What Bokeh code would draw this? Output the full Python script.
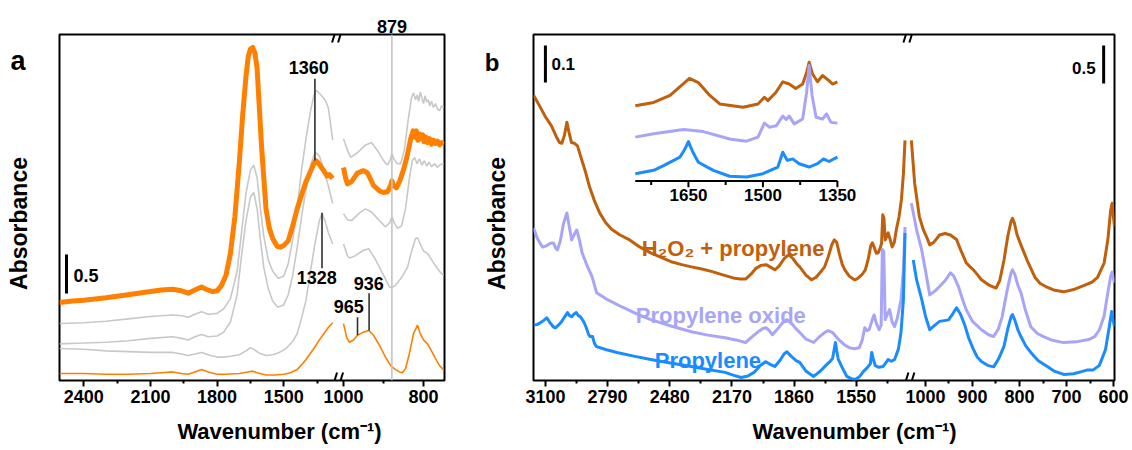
from bokeh.plotting import figure
from bokeh.models import Range1d, Label, Span, FixedTicker, CustomJSTickFormatter, LinearAxis
from bokeh.layouts import row
from bokeh.embed import file_html
from bokeh.resources import INLINE

FONT = "Liberation Sans"

# ---------------- Panel a data (left segment 2500-1280, right segment 1000-750) ----------------
a_thick_wl = [2509, 2450, 2400, 2300, 2200, 2100, 2050, 2000, 1960, 1930, 1900, 1870, 1850, 1820, 1800, 1780, 1760, 1740, 1720, 1700,
              1685, 1670, 1660, 1650, 1640, 1630, 1620, 1610, 1600, 1590, 1580, 1565, 1550, 1530, 1515, 1500, 1480, 1460, 1440, 1420,
              1400, 1380, 1365, 1356, 1340, 1320, 1305, 1295, 1280]
a_thick_vl = [1.00, 1.02, 1.03, 1.06, 1.10, 1.14, 1.16, 1.17, 1.15, 1.12, 1.16, 1.20, 1.17, 1.14, 1.15, 1.22, 1.35, 1.63, 2.10, 2.80,
              3.40, 3.90, 4.15, 4.25, 4.27, 4.20, 4.00, 3.50, 3.00, 2.60, 2.20, 1.95, 1.82, 1.72, 1.71, 1.73, 1.79, 1.98, 2.20, 2.38,
              2.55, 2.68, 2.78, 2.82, 2.77, 2.69, 2.62, 2.64, 2.59]
a_thick_wr = [1000, 995, 990, 980, 965, 950, 940, 925, 910, 900, 890, 882, 879, 875, 868, 860, 850, 840, 832, 826,
              822, 818, 814, 810, 806, 802, 798, 794, 790, 785, 780, 775, 770, 765, 760, 755, 750]
a_thick_vr = [2.73, 2.60, 2.52, 2.55, 2.66, 2.69, 2.66, 2.50, 2.43, 2.41, 2.42, 2.50, 2.56, 2.50, 2.47, 2.55, 2.70, 2.90, 3.10, 3.20,
              3.12, 3.20, 3.08, 3.16, 3.10, 3.15, 3.06, 3.12, 3.05, 3.10, 3.03, 3.08, 3.04, 3.07, 3.02, 3.05, 3.03]

a_grayA_wl = [2509, 2400, 2300, 2200, 2100, 2000, 1960, 1930, 1900, 1870, 1840, 1800, 1770, 1740, 1710, 1690, 1670, 1650, 1635, 1620,
              1605, 1590, 1570, 1550, 1525, 1500, 1480, 1460, 1440, 1420, 1400, 1380, 1365, 1355, 1345, 1330, 1315, 1300, 1290, 1280]
a_grayA_vl = [0.73, 0.74, 0.76, 0.79, 0.82, 0.84, 0.83, 0.81, 0.85, 0.88, 0.85, 0.86, 0.92, 1.05, 1.40, 1.90, 2.40, 2.70, 2.76, 2.60,
              2.20, 1.85, 1.55, 1.40, 1.31, 1.34, 1.50, 1.80, 2.20, 2.70, 3.10, 3.45, 3.65, 3.72, 3.70, 3.65, 3.60, 3.50, 3.30, 3.08]
a_grayA_wr = [1000, 990, 982, 965, 945, 930, 915, 900, 890, 882, 879, 875, 866, 857, 848, 838, 830, 825, 820, 816,
              812, 808, 804, 800, 796, 792, 788, 784, 780, 775, 770, 765, 760, 755, 750]
a_grayA_vr = [3.10, 2.95, 2.86, 2.92, 3.02, 3.05, 2.95, 2.82, 2.76, 2.84, 2.91, 2.85, 2.78, 2.78, 2.95, 3.35, 3.62, 3.69, 3.60, 3.66,
              3.58, 3.70, 3.62, 3.55, 3.65, 3.57, 3.60, 3.52, 3.58, 3.50, 3.55, 3.48, 3.46, 3.52, 3.50]

a_grayB_wl = [2509, 2400, 2300, 2200, 2100, 2000, 1960, 1930, 1900, 1870, 1840, 1800, 1770, 1740, 1710, 1690, 1670, 1650, 1635, 1620,
              1605, 1590, 1570, 1550, 1527, 1500, 1480, 1460, 1440, 1420, 1400, 1380, 1365, 1355, 1340, 1320, 1300, 1280]
a_grayB_vl = [0.47, 0.48, 0.49, 0.51, 0.54, 0.56, 0.54, 0.52, 0.56, 0.59, 0.56, 0.57, 0.62, 0.75, 1.10, 1.60, 2.05, 2.35, 2.41, 2.20,
              1.80, 1.45, 1.18, 1.02, 0.94, 0.97, 1.10, 1.35, 1.70, 2.10, 2.45, 2.75, 2.88, 2.92, 2.88, 2.70, 2.50, 2.27]
a_grayB_wr = [1000, 990, 980, 960, 945, 930, 910, 895, 885, 879, 873, 865, 855, 845, 835, 828, 822, 816, 810, 804,
              798, 792, 786, 780, 772, 765, 758, 750]
a_grayB_vr = [2.14, 2.06, 2.05, 2.15, 2.20, 2.16, 2.05, 1.97, 2.02, 2.10, 2.02, 1.95, 1.98, 2.20, 2.60, 2.82, 2.86, 2.78, 2.84, 2.76,
              2.82, 2.75, 2.80, 2.74, 2.78, 2.73, 2.77, 2.78]

a_grayC_wl = [2509, 2400, 2300, 2200, 2100, 2000, 1960, 1930, 1900, 1870, 1840, 1800, 1770, 1740, 1700, 1670, 1650, 1635, 1610, 1580,
              1550, 1520, 1490, 1460, 1440, 1420, 1400, 1380, 1360, 1340, 1328, 1315, 1300, 1280]
a_grayC_vl = [0.41, 0.40, 0.38, 0.37, 0.36, 0.36, 0.34, 0.32, 0.34, 0.36, 0.33, 0.30, 0.30, 0.31, 0.33, 0.38, 0.42, 0.40, 0.35, 0.32,
              0.33, 0.36, 0.41, 0.50, 0.60, 0.80, 1.03, 1.40, 1.75, 2.05, 2.14, 2.05, 1.90, 1.75]
a_grayC_wr = [1000, 990, 985, 970, 950, 937, 920, 900, 885, 879, 870, 855, 840, 830, 820, 815, 808, 800, 790, 780, 770, 760, 750]
a_grayC_vr = [1.75, 1.60, 1.57, 1.60, 1.67, 1.69, 1.55, 1.35, 1.20, 1.19, 1.22, 1.32, 1.45, 1.65, 1.82, 1.83, 1.75, 1.66, 1.63, 1.55,
              1.47, 1.40, 1.35]

a_thin_wl = [2509, 2400, 2300, 2200, 2100, 2050, 2000, 1960, 1930, 1900, 1870, 1840, 1800, 1760, 1700, 1660, 1640, 1620, 1580, 1540,
             1500, 1470, 1440, 1420, 1400, 1380, 1360, 1340, 1320, 1300, 1280]
a_thin_vl = [0.09, 0.09, 0.08, 0.08, 0.09, 0.10, 0.11, 0.09, 0.08, 0.11, 0.14, 0.11, 0.08, 0.08, 0.09, 0.11, 0.12, 0.10, 0.07, 0.07,
             0.08, 0.10, 0.14, 0.20, 0.27, 0.35, 0.43, 0.52, 0.60, 0.68, 0.74]
a_thin_wr = [1000, 992, 985, 975, 965, 950, 936, 925, 910, 895, 882, 870, 860, 853, 845, 835, 825, 815, 808, 800,
             790, 780, 770, 760, 750]
a_thin_vr = [0.73, 0.55, 0.49, 0.52, 0.58, 0.62, 0.64, 0.58, 0.45, 0.30, 0.19, 0.14, 0.11, 0.10, 0.15, 0.35, 0.60, 0.71, 0.60, 0.52,
             0.47, 0.38, 0.28, 0.19, 0.14]

a_ticks_left = [2400, 2100, 1800, 1500]
a_minor_left = [2250, 1950, 1650, 1350]
a_ticks_right = [1000, 800]
a_minor_right = [900]

# ---------------- Panel b data ----------------
b_brown_wl = [3159, 3130, 3100, 3070, 3045, 3030, 3018, 3005, 2993, 2982, 2970, 2955, 2940, 2920, 2900, 2880, 2857, 2830, 2800, 2770,
              2730, 2680, 2630, 2575, 2520, 2473, 2420, 2372, 2320, 2268, 2220, 2164, 2130, 2102, 2075, 2050, 2025, 2000, 1980, 1956,
              1935, 1910, 1887, 1865, 1845, 1832, 1800, 1773, 1750, 1725, 1708, 1690, 1672, 1660, 1648, 1635, 1620, 1607, 1585, 1565,
              1555, 1540, 1520, 1505, 1490, 1478, 1470, 1460, 1450, 1441, 1430, 1424, 1418, 1412, 1406, 1398, 1391, 1380, 1371, 1360,
              1350, 1337, 1325, 1315, 1307]
b_brown_vl = [0.773, 0.745, 0.715, 0.690, 0.660, 0.645, 0.643, 0.665, 0.700, 0.672, 0.645, 0.643, 0.636, 0.600, 0.565, 0.525, 0.489,
              0.455, 0.428, 0.410, 0.395, 0.381, 0.362, 0.346, 0.333, 0.322, 0.314, 0.308, 0.302, 0.295, 0.287, 0.278, 0.275, 0.275,
              0.288, 0.304, 0.312, 0.314, 0.308, 0.300, 0.310, 0.330, 0.341, 0.330, 0.315, 0.308, 0.285, 0.273, 0.280, 0.296, 0.308,
              0.335, 0.368, 0.381, 0.375, 0.345, 0.315, 0.300, 0.283, 0.275, 0.273, 0.278, 0.288, 0.300, 0.330, 0.365, 0.373, 0.360,
              0.345, 0.346, 0.360, 0.372, 0.449, 0.440, 0.381, 0.392, 0.400, 0.380, 0.362, 0.375, 0.410, 0.443, 0.490, 0.560, 0.651]
b_brown_wr = [1030, 1023, 1013, 1004, 998, 991, 983, 970, 958, 947, 934, 925, 913, 905, 898, 890, 881, 865, 850, 842,
              833, 825, 818, 815, 811, 805, 797, 784, 767, 756, 744, 725, 706, 685, 661, 645, 634, 620, 612, 606, 603, 598]
b_brown_vr = [3.17, 2.60, 2.16, 1.98, 1.90, 1.79, 1.82, 1.92, 1.94, 1.92, 1.86, 1.72, 1.55, 1.50, 1.46, 1.40, 1.33, 1.26, 1.22, 1.32,
              1.59, 1.90, 2.10, 2.14, 2.08, 1.92, 1.79, 1.59, 1.36, 1.28, 1.24, 1.19, 1.17, 1.20, 1.26, 1.30, 1.36, 1.55, 1.86, 2.25,
              2.34, 2.03]

b_lav_wl = [3159, 3140, 3115, 3095, 3075, 3060, 3048, 3040, 3025, 3010, 2993, 2982, 2969, 2957, 2944, 2930, 2917, 2895, 2867, 2845,
            2800, 2721, 2650, 2575, 2470, 2372, 2290, 2204, 2150, 2102, 2070, 2040, 2015, 2000, 1985, 1968, 1945, 1920, 1896, 1870,
            1850, 1832, 1800, 1763, 1735, 1708, 1690, 1668, 1640, 1610, 1585, 1560, 1535, 1520, 1508, 1497, 1486, 1470, 1461, 1450,
            1436, 1426, 1420, 1413, 1406, 1395, 1384, 1372, 1359, 1345, 1327, 1315, 1307]
b_lav_vl = [0.413, 0.385, 0.362, 0.365, 0.372, 0.373, 0.358, 0.354, 0.380, 0.425, 0.454, 0.420, 0.381, 0.395, 0.408, 0.380, 0.346,
            0.315, 0.281, 0.238, 0.222, 0.200, 0.182, 0.165, 0.147, 0.132, 0.123, 0.116, 0.110, 0.103, 0.118, 0.132, 0.141, 0.143,
            0.136, 0.124, 0.138, 0.155, 0.165, 0.153, 0.140, 0.130, 0.112, 0.103, 0.118, 0.130, 0.135, 0.130, 0.112, 0.097, 0.089,
            0.086, 0.089, 0.110, 0.143, 0.135, 0.138, 0.165, 0.178, 0.155, 0.138, 0.150, 0.355, 0.350, 0.165, 0.180, 0.192, 0.160,
            0.146, 0.170, 0.219, 0.300, 0.416]
b_lav_wr = [1030, 1019, 1008, 1000, 991, 980, 970, 958, 947, 940, 930, 920, 913, 900, 881, 865, 855, 845, 837, 826,
            818, 815, 810, 803, 797, 787, 776, 762, 749, 730, 706, 680, 653, 640, 630, 620, 612, 606, 603, 598]
b_lav_vr = [2.34, 1.99, 1.72, 1.45, 1.13, 1.18, 1.24, 1.32, 1.42, 1.38, 1.24, 1.05, 0.93, 0.78, 0.67, 0.60, 0.58, 0.68, 0.84, 1.20,
            1.42, 1.46, 1.40, 1.25, 1.16, 0.92, 0.71, 0.62, 0.58, 0.53, 0.50, 0.51, 0.54, 0.58, 0.67, 0.85, 1.16, 1.38, 1.43, 1.29]

b_blue_wl = [3159, 3140, 3124, 3108, 3093, 3075, 3060, 3050, 3035, 3020, 3005, 2990, 2980, 2969, 2957, 2946, 2936, 2926, 2910, 2896,
             2885, 2877, 2865, 2855, 2845, 2800, 2743, 2660, 2575, 2470, 2372, 2290, 2204, 2160, 2124, 2090, 2060, 2030, 2003, 1980,
             1956, 1930, 1910, 1896, 1875, 1850, 1832, 1800, 1763, 1730, 1698, 1680, 1668, 1660, 1654, 1648, 1640, 1620, 1597, 1575,
             1555, 1535, 1515, 1495, 1480, 1473, 1466, 1455, 1440, 1416, 1400, 1391, 1375, 1359, 1340, 1327, 1315, 1307]
b_blue_vl = [0.151, 0.152, 0.157, 0.163, 0.170, 0.155, 0.145, 0.143, 0.150, 0.159, 0.172, 0.184, 0.176, 0.173, 0.180, 0.184, 0.176,
             0.173, 0.160, 0.143, 0.125, 0.119, 0.119, 0.100, 0.092, 0.084, 0.076, 0.066, 0.057, 0.047, 0.038, 0.030, 0.022, 0.014,
             0.008, 0.012, 0.022, 0.040, 0.051, 0.044, 0.038, 0.055, 0.072, 0.078, 0.066, 0.054, 0.049, 0.025, 0.011, 0.025, 0.043,
             0.052, 0.060, 0.085, 0.103, 0.082, 0.058, 0.035, 0.011, 0.005, 0.003, 0.010, 0.024, 0.035, 0.045, 0.076, 0.060, 0.040,
             0.036, 0.038, 0.050, 0.057, 0.052, 0.057, 0.085, 0.130, 0.220, 0.400]
b_blue_wr = [1026, 1019, 1008, 1000, 991, 980, 970, 960, 951, 942, 934, 926, 917, 908, 898, 890, 881, 868, 855, 845,
             833, 825, 818, 815, 810, 803, 797, 787, 776, 760, 740, 725, 706, 685, 666, 655, 643, 630, 617, 608, 604, 598]
b_blue_vr = [1.59, 1.33, 1.07, 0.85, 0.67, 0.73, 0.78, 0.79, 0.80, 0.88, 0.96, 0.88, 0.74, 0.56, 0.41, 0.31, 0.25, 0.20, 0.18, 0.28,
             0.45, 0.68, 0.84, 0.87, 0.80, 0.66, 0.58, 0.46, 0.37, 0.26, 0.18, 0.12, 0.08, 0.09, 0.12, 0.14, 0.14, 0.20, 0.41, 0.75,
             0.91, 0.71]

b_ticks_left = [3100, 2790, 2480, 2170, 1860, 1550]
b_minor_left = [2945, 2635, 2325, 2015, 1705, 1395]
b_ticks_right = [1000, 900, 800, 700, 600]
b_minor_right = [950, 850, 750, 650]

# inset (1750-1350 cm-1)
in_brown_w = [1757, 1720, 1687, 1664, 1648, 1630, 1607, 1587, 1540, 1510, 1497, 1490, 1474, 1460, 1447, 1434, 1420, 1412, 1407, 1400,
              1390, 1380, 1367, 1360, 1350]
in_brown_v = [0.196, 0.205, 0.224, 0.251, 0.270, 0.259, 0.224, 0.201, 0.192, 0.201, 0.219, 0.210, 0.232, 0.261, 0.255, 0.243, 0.255,
              0.286, 0.314, 0.282, 0.261, 0.278, 0.264, 0.255, 0.261]
in_lav_w = [1757, 1720, 1660, 1620, 1567, 1533, 1510, 1497, 1487, 1473, 1460, 1453, 1447, 1437, 1420, 1412, 1407, 1401, 1393, 1380,
            1372, 1363, 1350]
in_lav_v = [0.111, 0.120, 0.132, 0.126, 0.106, 0.100, 0.111, 0.149, 0.138, 0.142, 0.168, 0.159, 0.168, 0.147, 0.160, 0.232, 0.305,
            0.224, 0.165, 0.160, 0.174, 0.151, 0.149]
in_blue_w = [1757, 1720, 1700, 1667, 1657, 1650, 1641, 1630, 1600, 1567, 1533, 1500, 1470, 1460, 1451, 1440, 1427, 1407, 1390, 1378,
             1367, 1350]
in_blue_v = [0.012, 0.021, 0.034, 0.057, 0.079, 0.099, 0.070, 0.043, 0.021, 0.005, 0.003, 0.012, 0.030, 0.070, 0.048, 0.052, 0.039,
             0.030, 0.039, 0.052, 0.045, 0.057]
in_ticks = [1650, 1500, 1350]
in_minor = [1725, 1575, 1425]

ORANGE = "#ff8000"
GRAY = "#c8c8c8"
BROWN = "#c0600c"
LAV = "#a8a4f8"
BLUE = "#1a8cff"
NB = "\u00a0"
XLABEL = "Wavenumber (cm\u207b\u00b9)"


def lab(p, x, y, text, size, color="black", align="left", baseline="middle", xr="default", yr="default"):
    p.add_layout(Label(x=x, y=y, text=text, text_font=FONT, text_font_style="bold", text_font_size=f"{size}px",
                       text_color=color, text_align=align, text_baseline=baseline,
                       x_range_name=xr, y_range_name=yr))


def to_main(w, L, R):
    return L.start + (w - R.start) * (L.end - L.start) / (R.end - R.start)


def const_fmt(txt):
    return CustomJSTickFormatter(args=dict(t=txt), code="return t;")


def bold_axis(ax, size):
    ax.major_label_text_font = FONT
    ax.major_label_text_font_style = "bold"
    ax.major_label_text_font_size = f"{size}px"
    ax.major_label_text_color = "black"
    ax.axis_label_text_font = FONT
    ax.axis_label_text_font_style = "bold"
    ax.axis_label_text_color = "black"


def no_ticks(ax):
    ax.axis_line_color = None
    ax.major_tick_line_color = None
    ax.minor_tick_line_color = None
    ax.major_tick_out = 0
    ax.major_tick_in = 0
    ax.minor_tick_out = 0
    ax.minor_tick_in = 0


def break_marks(p, w_c, kx, ky, y_edges):
    # two short slanted strokes centred on the frame edge (px per unit: kx, ky)
    x0, y0, x1, y1 = [], [], [], []
    for ye in y_edges:
        for off in (-3.0, 3.0):
            x0.append(w_c - (off - 2.5) / kx)
            y0.append(ye - 8.0 / ky)
            x1.append(w_c - (off + 2.5) / kx)
            y1.append(ye + 8.0 / ky)
    p.segment(x0=x0, y0=y0, x1=x1, y1=y1, line_color="black", line_width=2)


def style_panel(p, L, R, brk, ticks_l, minor_l, ticks_r, minor_r, xlabel, ylabel, letter, letter_y, letter_size,
                ylab_standoff, mark879=None):
    ticks = ticks_l + [to_main(t, L, R) for t in ticks_r]
    minor = minor_l + [to_main(t, L, R) for t in minor_r]
    ax = p.xaxis[0]
    ax.ticker = FixedTicker(ticks=ticks, minor_ticks=minor)
    ax.formatter = CustomJSTickFormatter(args=dict(brk=brk, l0=L.start, l1=L.end, r0=R.start, r1=R.end), code="""
        if (tick > brk) { return Math.round(tick).toString(); }
        const v = r0 + (tick - l0) * (r1 - r0) / (l1 - l0);
        return Math.round(v).toString();
    """)
    ax.axis_line_color = None
    ax.major_tick_out = 6
    ax.major_tick_in = 0
    ax.minor_tick_out = 3
    ax.minor_tick_in = 0
    ax.major_tick_line_width = 2
    ax.minor_tick_line_width = 2
    ax.major_tick_line_color = "black"
    ax.minor_tick_line_color = "black"
    bold_axis(ax, 18)
    ax.major_label_standoff = 3
    ax.axis_label = xlabel
    ax.axis_label_text_font_size = "22px"
    ax.axis_label_standoff = 13

    ay = p.yaxis[0]
    ay.ticker = FixedTicker(ticks=[letter_y], minor_ticks=[])
    ay.formatter = const_fmt(letter)
    no_ticks(ay)
    bold_axis(ay, letter_size)
    ay.major_label_standoff = 34
    ay.axis_label = ylabel
    ay.axis_label_text_font_size = "23px"
    ay.axis_label_standoff = ylab_standoff

    if mark879 is not None:
        top = LinearAxis(ticker=FixedTicker(ticks=[to_main(mark879, L, R)], minor_ticks=[]),
                         formatter=const_fmt(str(mark879)))
        no_ticks(top)
        bold_axis(top, 18)
        top.major_label_standoff = 2
        p.add_layout(top, "above")

    p.grid.visible = False
    p.outline_line_color = "black"
    p.outline_line_width = 2
    p.outline_line_alpha = 1.0


# ================= Panel a =================
aL = Range1d(2509, 777)
aR = Range1d(1710, 747.5)
aY = Range1d(0, 4.436)
pa = figure(width=480, height=450, x_range=aL, y_range=aY, output_backend="svg",
            toolbar_location=None, min_border_left=59, min_border_right=36, min_border_top=34, min_border_bottom=70)
pa.extra_x_ranges = {"right": aR}
style_panel(pa, aL, aR, 1258, a_ticks_left, a_minor_left, a_ticks_right, a_minor_right,
            NB * 9 + XLABEL, "Absorbance" + NB * 5, "a", 4.09, 27, -25, mark879=879)

for wl, vl, wr, vr in [(a_grayA_wl, a_grayA_vl, a_grayA_wr, a_grayA_vr),
                       (a_grayB_wl, a_grayB_vl, a_grayB_wr, a_grayB_vr),
                       (a_grayC_wl, a_grayC_vl, a_grayC_wr, a_grayC_vr)]:
    pa.line(wl, vl, line_color=GRAY, line_width=1.6)
    pa.line(wr, vr, line_color=GRAY, line_width=1.6, x_range_name="right")
pa.line(a_thin_wl, a_thin_vl, line_color=ORANGE, line_width=1.6)
pa.line(a_thin_wr, a_thin_vr, line_color=ORANGE, line_width=1.6, x_range_name="right")
pa.line(a_thick_wl, a_thick_vl, line_color=ORANGE, line_width=5, line_join="round")
pa.line(a_thick_wr, a_thick_vr, line_color=ORANGE, line_width=5, line_join="round", x_range_name="right")

pa.add_layout(Span(location=879, dimension="height", line_color="#c4c4c4", line_width=1.6, x_range_name="right"))

# peak markers
pa.segment(x0=[1360, 1328], y0=[3.87, 2.15], x1=[1360, 1328], y1=[2.82, 1.44], line_color="#303030", line_width=1.6)
pa.segment(x0=[965, 936], y0=[0.81, 1.12], x1=[965, 936], y1=[0.58, 0.64], line_color="#303030", line_width=1.6,
           x_range_name="right")
lab(pa, 1388, 4.01, "1360", 18, align="center")
lab(pa, 1352, 1.32, "1328", 18, align="center")
lab(pa, 987, 0.95, "965", 18, align="center", xr="right")
lab(pa, 937, 1.24, "936", 18, align="center", xr="right")

# scale bar
pa.segment(x0=[2477.5], y0=[1.115], x1=[2477.5], y1=[1.615], line_color="black", line_width=3)
lab(pa, 2446, 1.346, "0.5", 18)

break_marks(pa, 1258, 0.2222, 78.0, [aY.start, aY.end])

# ================= Panel b =================
bL = Range1d(3159.4, 262.5)
bR = Range1d(1833.9, 597.9)
bY = Range1d(0, 0.9378)
pb = figure(width=652, height=450, x_range=bL, y_range=bY, output_backend="svg",
            toolbar_location=None, min_border_left=49, min_border_right=18, min_border_top=34, min_border_bottom=69)
pb.extra_x_ranges = {"right": bR, "inset": Range1d(1962, 792)}
pb.extra_y_ranges = {"right_y": Range1d(0, 4.566), "inset_y": Range1d(-0.5486, 0.3892)}
style_panel(pb, bL, bR, 1287.6, b_ticks_left, b_minor_left, b_ticks_right, b_minor_right,
            NB * 10 + XLABEL, "Absorbance" + NB * 5, "b", 0.862, 24, -28)

for wl, vl, wr, vr, c in [(b_brown_wl, b_brown_vl, b_brown_wr, b_brown_vr, BROWN),
                          (b_lav_wl, b_lav_vl, b_lav_wr, b_lav_vr, LAV),
                          (b_blue_wl, b_blue_vl, b_blue_wr, b_blue_vr, BLUE)]:
    pb.line(wl, vl, line_color=c, line_width=3, line_join="round")
    pb.line(wr, vr, line_color=c, line_width=3, line_join="round", x_range_name="right", y_range_name="right_y")

for w, v, c in [(in_brown_w, in_brown_v, BROWN), (in_lav_w, in_lav_v, LAV), (in_blue_w, in_blue_v, BLUE)]:
    pb.line(w, v, line_color=c, line_width=3, line_join="round", x_range_name="inset", y_range_name="inset_y")

# inset axis
AX0 = -0.008
pb.segment(x0=[1757], y0=[AX0], x1=[1350], y1=[AX0], line_color="black", line_width=2,
           x_range_name="inset", y_range_name="inset_y")
pb.segment(x0=in_ticks, y0=[AX0] * 3, x1=in_ticks, y1=[AX0 - 0.017] * 3, line_color="black", line_width=2,
           x_range_name="inset", y_range_name="inset_y")
pb.segment(x0=in_minor, y0=[AX0] * 3, x1=in_minor, y1=[AX0 - 0.011] * 3, line_color="black", line_width=2,
           x_range_name="inset", y_range_name="inset_y")
for t in in_ticks:
    lab(pb, t, -0.047, str(t), 17, align="center", xr="inset", yr="inset_y")

# scale bars
pb.segment(x0=[3100], y0=[0.808], x1=[3100], y1=[0.908], line_color="black", line_width=3)
lab(pb, 3070, 0.859, "0.1", 17)
pb.segment(x0=[621], y0=[3.92], x1=[621], y1=[4.42], line_color="black", line_width=3,
           x_range_name="right", y_range_name="right_y")
lab(pb, 638, 4.13, "0.5", 17, align="right", xr="right", yr="right_y")

lab(pb, 2620, 0.357, "H\u2082O\u2082 + propylene", 22, color=BROWN, baseline="alphabetic")
lab(pb, 2649, 0.176, "Propylene oxide", 22, color=LAV, baseline="alphabetic")
lab(pb, 2555, 0.054, "Propylene", 22, color=BLUE, baseline="alphabetic")

break_marks(pb, 1287.6, 0.20194, 370.0, [bY.start, bY.end])

layout = row(pa, pb)
open("out.html", "w").write(file_html(layout, INLINE))
